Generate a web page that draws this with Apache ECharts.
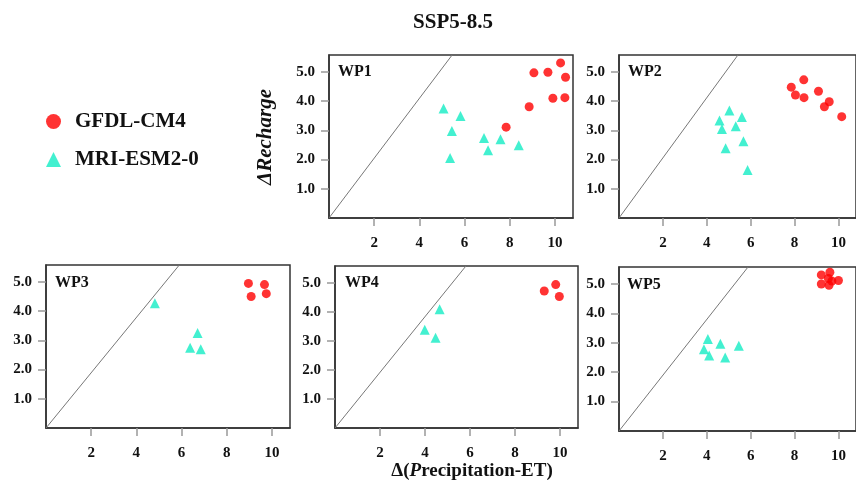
<!DOCTYPE html>
<html>
<head>
<meta charset="utf-8">
<script src="https://cdn.jsdelivr.net/npm/echarts@6/dist/echarts.min.js"></script>
<style>html,body{margin:0;padding:0;background:#fff}#c{width:856px;height:485px}</style>
</head>
<body>
<div id="c"></div>
<script>
// ---- data ----
const panelNames = ['WP1', 'WP2', 'WP3', 'WP4', 'WP5'];
const seriesNames = ['GFDL-CM4', 'MRI-ESM2-0'];
const xTicks = [2, 4, 6, 8, 10];
const yTicks = [1, 2, 3, 4, 5];

const wp1Gfdl = [[9.07,4.97],[9.69,4.99],[10.25,5.31],[10.47,4.82],[9.91,4.10],[10.44,4.12],[8.86,3.81],[7.84,3.11]];
const wp1Mri  = [[5.07,3.75],[5.82,3.49],[5.44,2.98],[6.86,2.74],[7.59,2.70],[7.04,2.32],[8.40,2.49],[5.36,2.05]];
const wp2Gfdl = [[7.85,4.48],[8.42,4.73],[8.04,4.21],[8.43,4.12],[9.09,4.34],[9.58,3.98],[9.36,3.81],[10.15,3.47]];
const wp2Mri  = [[5.03,3.68],[4.58,3.34],[5.60,3.46],[4.69,3.05],[5.32,3.14],[5.67,2.63],[4.86,2.39],[5.86,1.64]];
const wp3Gfdl = [[8.96,4.95],[9.67,4.91],[9.08,4.50],[9.75,4.60]];
const wp3Mri  = [[4.82,4.27],[6.71,3.25],[6.38,2.75],[6.85,2.70]];
const wp4Gfdl = [[9.30,4.72],[9.81,4.94],[9.97,4.53]];
const wp4Mri  = [[4.65,4.09],[3.99,3.38],[4.47,3.11]];
const wp5Gfdl = [[9.22,5.31],[9.61,5.40],[9.54,5.19],[10.0,5.12],[9.22,5.00],[9.57,4.96],[9.70,5.10]];
const wp5Mri  = [[4.05,3.13],[3.87,2.78],[4.11,2.57],[4.62,2.97],[5.46,2.90],[4.84,2.50]];

// x where the reference (1:1) line meets the top of each panel
const refTopX = [5.45, 5.42, 5.9, 5.82, 5.88];

const X_MAX = 10.8;
const Y_MAX = 5.58;

const gfdlData = [wp1Gfdl, wp2Gfdl, wp3Gfdl, wp4Gfdl, wp5Gfdl];
const mriData  = [wp1Mri, wp2Mri, wp3Mri, wp4Mri, wp5Mri];

// ---- layout ----
const grids = [
  {left: 329, top: 55, width: 244, height: 163},
  {left: 619, top: 55, width: 244, height: 163},
  {left: 46,  top: 265, width: 244, height: 163},
  {left: 335, top: 266, width: 243, height: 162},
  {left: 619, top: 267, width: 244, height: 164}
];
const labelOffsets = [[9, 17.5], [9, 17.5], [9, 19], [10, 18], [8, 19]];

const FONT = '"Liberation Serif", "Times New Roman", serif';
const RED = '#ff0000';
const CYAN = '#14ecc4';

const xAxes = [], yAxes = [], series = [], titles = [];
grids.forEach((g, i) => {
  xAxes.push({
    gridIndex: i, type: 'value', min: 0, max: X_MAX, interval: 2,
    splitLine: {show: false},
    axisLine: {show: true, onZero: false, lineStyle: {color: '#333', width: 1.5}},
    axisTick: {show: true, customValues: xTicks, length: 8, lineStyle: {color: '#999', width: 1.5}},
    axisLabel: {customValues: xTicks, margin: 18, fontFamily: FONT, fontWeight: 'bold', fontSize: 15, color: '#111'}
  });
  yAxes.push({
    gridIndex: i, type: 'value', min: 0, max: Y_MAX, interval: 1,
    splitLine: {show: false},
    axisLine: {show: true, onZero: false, lineStyle: {color: '#333', width: 1.5}},
    axisTick: {show: true, customValues: yTicks, length: 8, lineStyle: {color: '#999', width: 1.5}},
    axisLabel: {customValues: yTicks, margin: 14, fontFamily: FONT, fontWeight: 'bold', fontSize: 15, color: '#111',
      formatter: v => v.toFixed(1)}
  });
  series.push({
    type: 'line', name: 'ref' + i, xAxisIndex: i, yAxisIndex: i, silent: true,
    data: [[0, 0], [refTopX[i], Y_MAX]], symbol: 'none',
    lineStyle: {color: '#777', width: 1}, z: 1
  });
  series.push({
    type: 'scatter', name: seriesNames[1], xAxisIndex: i, yAxisIndex: i,
    data: mriData[i], symbol: 'triangle', symbolSize: 10,
    itemStyle: {color: CYAN}, z: 3
  });
  series.push({
    type: 'scatter', name: seriesNames[0], xAxisIndex: i, yAxisIndex: i,
    data: gfdlData[i], symbol: 'circle', symbolSize: 9,
    itemStyle: {color: RED}, z: 4
  });
  titles.push({
    text: panelNames[i], left: g.left + labelOffsets[i][0], top: g.top + labelOffsets[i][1] - 9,
    textStyle: {fontFamily: FONT, fontWeight: 'bold', fontSize: 16, color: '#111'}, padding: 0
  });
});

titles.push({
  text: 'SSP5-8.5', left: 453, top: 12, textAlign: 'center', padding: 0,
  textStyle: {fontFamily: FONT, fontWeight: 'bold', fontSize: 21, color: '#111'}
});

const option = {
  backgroundColor: '#fff',
  animation: false,
  title: titles,
  grid: grids.map(g => Object.assign({show: true, borderColor: '#333', borderWidth: 1.5, backgroundColor: 'transparent'}, g)),
  xAxis: xAxes,
  yAxis: yAxes,
  legend: {
    orient: 'vertical', left: 41, top: 106, itemGap: 17,
    itemWidth: 15, itemHeight: 15,
    data: [{name: seriesNames[0], icon: 'circle'}, {name: seriesNames[1], icon: 'triangle'}],
    textStyle: {fontFamily: FONT, fontWeight: 'bold', fontSize: 21, color: '#111', padding: [0, 0, 0, 9], lineHeight: 21}
  },
  graphic: [
    {
      type: 'text', x: 472, y: 471,
      style: {
        text: '{n|Δ(}{i|P}{n|recipitation-ET)}',
        align: 'center', verticalAlign: 'middle',
        rich: {
          n: {fontFamily: FONT, fontWeight: 'bold', fontSize: 19, fill: '#111'},
          i: {fontFamily: FONT, fontWeight: 'bold', fontStyle: 'italic', fontSize: 19, fill: '#111'}
        }
      }
    },
    {
      type: 'text', x: 266, y: 137, rotation: Math.PI / 2,
      style: {
        text: 'ΔRecharge', align: 'center', verticalAlign: 'middle',
        font: 'italic bold 21px ' + FONT, fill: '#111'
      }
    }
  ],
  series: series
};

const chart = echarts.init(document.getElementById('c'), null, {renderer: 'canvas'});
chart.setOption(option);
</script>
</body>
</html>
